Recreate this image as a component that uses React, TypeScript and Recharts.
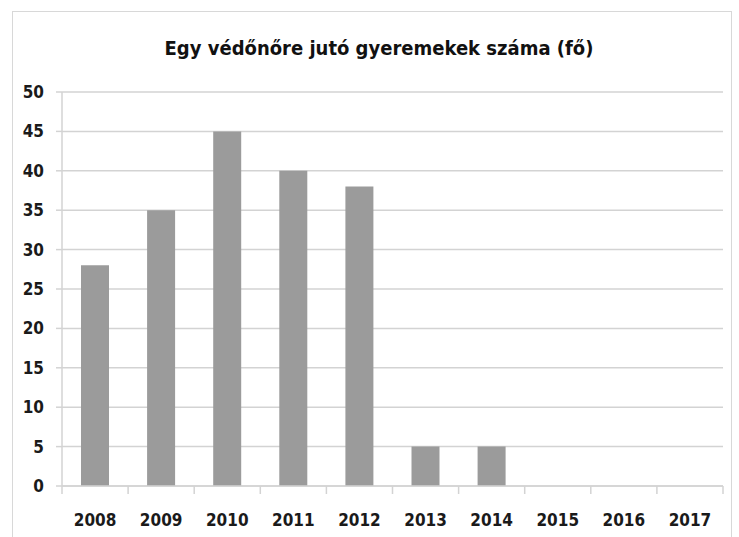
import React from 'react';
import { BarChart, Bar, XAxis, YAxis, CartesianGrid } from 'recharts';

const years = ['2008', '2009', '2010', '2011', '2012', '2013', '2014', '2015', '2016', '2017'];
const children = [28, 35, 45, 40, 38, 5, 5, 0, 0, 0];
const yTicks = [0, 5, 10, 15, 20, 25, 30, 35, 40, 45, 50];
const title = 'Egy védőnőre jutó gyeremekek száma (fő)';

const data = years.map((y, i) => ({ year: y, value: children[i] }));

const FONT = '"DejaVu Sans Condensed", "DejaVu Sans", sans-serif';
const GRID = '#d3d3d3';

const XTick = (props: any) => {
  const { x, y, payload, index, visibleTicksCount } = props;
  const half = payload && typeof payload.offset === 'number' && payload.offset > 0 ? payload.offset : 33;
  const axisY = y - 28;
  const last = index === (visibleTicksCount ?? years.length) - 1;
  return (
    <g>
      <line x1={x - half} y1={axisY} x2={x - half} y2={axisY + 8} stroke={GRID} strokeWidth={1.5} />
      {last && <line x1={x + half} y1={axisY} x2={x + half} y2={axisY + 8} stroke={GRID} strokeWidth={1.5} />}
      <text x={x} y={y} dy="0.71em" textAnchor="middle" fill="#1a1a1a" fontFamily={FONT} fontWeight="bold" fontSize={17}>
        {payload.value}
      </text>
    </g>
  );
};

export default function App() {
  return (
    <div style={{ position: 'absolute', left: 0, top: 0, width: 739, height: 537, background: '#fff', overflow: 'hidden' }}>
      <div style={{ position: 'absolute', left: 12, top: 11, width: 720, height: 540, border: '1.5px solid #d8d8d8', boxSizing: 'border-box' }} />
      <div
        style={{
          position: 'absolute',
          left: 0,
          width: 758,
          top: 35,
          textAlign: 'center',
          fontFamily: FONT,
          fontWeight: 'bold',
          fontSize: 20,
          color: '#111',
          lineHeight: '26px',
        }}
      >
        {title}
      </div>
      <div style={{ position: 'absolute', left: 0, top: 0 }}>
        <BarChart width={739} height={537} data={data} margin={{ top: 92, right: 16, bottom: 21, left: 0 }}>
          <CartesianGrid horizontal vertical={false} stroke={GRID} strokeWidth={1.5} />
          <XAxis
            dataKey="year"
            height={30}
            axisLine={{ stroke: GRID, strokeWidth: 1.5 }}
            tickLine={false}
            tickSize={8}
            tickMargin={20}
            tick={<XTick />}
            interval={0}
          />
          <YAxis
            width={62}
            domain={[0, 50]}
            ticks={yTicks}
            interval={0}
            axisLine={{ stroke: GRID, strokeWidth: 1.5 }}
            tickLine={{ stroke: GRID, strokeWidth: 1.5 }}
            tickSize={6}
            tickMargin={12}
            tick={{ fill: '#1a1a1a', fontFamily: FONT, fontWeight: 'bold', fontSize: 17 }}
          />
          <Bar dataKey="value" fill="#9b9b9b" barSize={28} isAnimationActive={false} />
        </BarChart>
      </div>
    </div>
  );
}
